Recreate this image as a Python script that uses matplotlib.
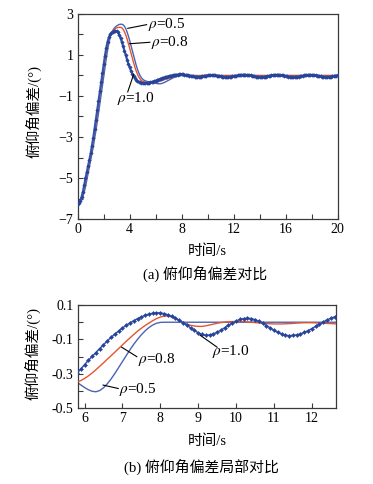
import numpy as np
import matplotlib
matplotlib.use("Agg")
import matplotlib.pyplot as plt
from matplotlib.ticker import MultipleLocator, FormatStrFormatter

plt.rcParams['font.family'] = ['Liberation Serif', 'Noto Sans CJK SC']
plt.rcParams['mathtext.fontset'] = 'stix'
plt.rcParams['axes.unicode_minus'] = True

# time grid, 0.1 s step
time_s = np.round(np.arange(201) * 0.1, 1)

rho_10 = [
    -6.25, -6.21, -6.10, -5.92, -5.67, -5.36, -5.02, -4.72, -4.42, -4.13,
    -3.80, -3.43, -3.03, -2.60, -2.15, -1.70, -1.24, -0.78, -0.32, 0.13,
    0.56, 0.97, 1.35, 1.65, 1.86, 2.00, 2.09, 2.14, 2.17, 2.18,
    2.16, 2.10, 1.98, 1.82, 1.63, 1.42, 1.20, 0.98, 0.77, 0.57,
    0.39, 0.23, 0.09, -0.03, -0.13, -0.21, -0.27, -0.31, -0.34, -0.36,
    -0.370, -0.375, -0.372, -0.365, -0.355, -0.343, -0.329, -0.314, -0.297, -0.272,
    -0.247, -0.222, -0.199, -0.176, -0.153, -0.131, -0.109, -0.088, -0.069, -0.051,
    -0.034, -0.018, -0.004, 0.009, 0.021, 0.031, 0.040, 0.047, 0.052, 0.055,
    0.054, 0.050, 0.043, 0.034, 0.024, 0.012, -0.002, -0.017, -0.033, -0.048,
    -0.061, -0.071, -0.077, -0.074, -0.068, -0.058, -0.046, -0.032, -0.018, -0.005,
    0.007, 0.016, 0.021, 0.023, 0.021, 0.015, 0.006, -0.006, -0.019, -0.033,
    -0.047, -0.059, -0.068, -0.075, -0.078, -0.077, -0.074, -0.068, -0.059, -0.049,
    -0.037, -0.024, -0.011, 0.001, 0.013, 0.023, 0.031, 0.037, 0.040, 0.036,
    0.032, 0.025, 0.015, 0.003, -0.011, -0.026, -0.040, -0.053, -0.064, -0.073,
    -0.078, -0.080, -0.078, -0.073, -0.064, -0.053, -0.040, -0.026, -0.011, 0.003,
    0.015, 0.025, 0.032, 0.035, 0.034, 0.030, 0.023, 0.013, 0.001, -0.012,
    -0.026, -0.040, -0.053, -0.064, -0.072, -0.077, -0.079, -0.077, -0.072, -0.064,
    -0.053, -0.041, -0.027, -0.013, 0.001, 0.013, 0.023, 0.030, 0.034, 0.034,
    0.031, 0.025, 0.016, 0.005, -0.008, -0.022, -0.036, -0.049, -0.060, -0.069,
    -0.075, -0.078, -0.077, -0.073, -0.066, -0.056, -0.044, -0.031, -0.017, -0.004,
    0.008,
]

rho_08 = [
    -6.25, -6.23, -6.15, -6.00, -5.79, -5.52, -5.20, -4.86, -4.54, -4.23,
    -3.92, -3.58, -3.21, -2.80, -2.37, -1.93, -1.49, -1.04, -0.59, -0.14,
    0.31, 0.74, 1.14, 1.49, 1.76, 1.95, 2.08, 2.17, 2.24, 2.29,
    2.32, 2.34, 2.35, 2.35, 2.32, 2.25, 2.13, 1.97, 1.78, 1.56,
    1.33, 1.09, 0.85, 0.62, 0.41, 0.22, 0.06, -0.07, -0.17, -0.24,
    -0.285, -0.315, -0.333, -0.343, -0.348, -0.351, -0.352, -0.351, -0.347, -0.339,
    -0.327, -0.312, -0.295, -0.276, -0.256, -0.236, -0.215, -0.195, -0.174, -0.153,
    -0.132, -0.111, -0.091, -0.071, -0.052, -0.035, -0.019, -0.005, 0.009, 0.021,
    0.030, 0.036, 0.036, 0.031, 0.021, 0.009, -0.002, -0.011, -0.018, -0.022,
    -0.024, -0.024, -0.021, -0.016, -0.011, -0.006, -0.002, 0.001, 0.003, 0.004,
    0.004, 0.004, 0.003, 0.002, 0.000, -0.002, -0.004, -0.006, -0.008, -0.009,
    -0.010, -0.010, -0.010, -0.009, -0.008, -0.007, -0.005, -0.004, -0.003, -0.003,
    -0.003, -0.004, -0.005, -0.006, -0.007, -0.008, -0.009, -0.010, -0.010, -0.009,
    -0.008, -0.007, -0.006, -0.005, -0.004, -0.004, -0.004, -0.005, -0.006, -0.007,
    -0.008, -0.008, -0.008, -0.007, -0.006, -0.005, -0.004, -0.004, -0.004, -0.005,
    -0.006, -0.007, -0.007, -0.007, -0.006, -0.005, -0.005, -0.004, -0.004, -0.005,
    -0.005, -0.006, -0.006, -0.006, -0.006, -0.005, -0.005, -0.004, -0.004, -0.005,
    -0.005, -0.005, -0.006, -0.006, -0.005, -0.005, -0.005, -0.004, -0.004, -0.004,
    -0.005, -0.005, -0.005, -0.005, -0.005, -0.004, -0.004, -0.004, -0.004, -0.005,
    -0.005, -0.005, -0.005, -0.004, -0.004, -0.004, -0.004, -0.004, -0.004, -0.004,
    -0.004,
]

rho_05 = [
    -6.25, -6.24, -6.19, -6.08, -5.92, -5.70, -5.43, -5.11, -4.78, -4.46,
    -4.14, -3.81, -3.47, -3.10, -2.70, -2.28, -1.85, -1.41, -0.96, -0.50,
    -0.05, 0.40, 0.83, 1.23, 1.58, 1.86, 2.06, 2.20, 2.30, 2.37,
    2.42, 2.46, 2.49, 2.50, 2.50, 2.47, 2.40, 2.28, 2.12, 1.92,
    1.70, 1.46, 1.21, 0.96, 0.72, 0.50, 0.30, 0.13, -0.01, -0.11,
    -0.180, -0.230, -0.260, -0.285, -0.300, -0.313, -0.324, -0.336, -0.349, -0.364,
    -0.379, -0.392, -0.401, -0.404, -0.397, -0.381, -0.358, -0.330, -0.298, -0.264,
    -0.229, -0.194, -0.160, -0.128, -0.099, -0.073, -0.050, -0.031, -0.016, -0.006,
    -0.001, 0.000, 0.000, 0.000, 0.000, 0.000, 0.000, 0.000, 0.000, 0.000,
    0.000, 0.000, 0.000, 0.000, 0.000, 0.000, 0.000, 0.000, 0.000, 0.000,
    0.000, 0.000, 0.000, 0.000, 0.000, 0.000, 0.000, 0.000, 0.000, 0.000,
    0.000, 0.000, 0.000, 0.000, 0.000, 0.000, 0.000, 0.000, 0.000, 0.000,
    0.000, 0.000, 0.000, 0.000, 0.000, 0.000, 0.000, 0.000, 0.000, 0.000,
    0.000, 0.000, 0.000, 0.000, 0.000, 0.000, 0.000, 0.000, 0.000, 0.000,
    0.000, 0.000, 0.000, 0.000, 0.000, 0.000, 0.000, 0.000, 0.000, 0.000,
    0.000, 0.000, 0.000, 0.000, 0.000, 0.000, 0.000, 0.000, 0.000, 0.000,
    0.000, 0.000, 0.000, 0.000, 0.000, 0.000, 0.000, 0.000, 0.000, 0.000,
    0.000, 0.000, 0.000, 0.000, 0.000, 0.000, 0.000, 0.000, 0.000, 0.000,
    0.000, 0.000, 0.000, 0.000, 0.000, 0.000, 0.000, 0.000, 0.000, 0.000,
    0.000, 0.000, 0.000, 0.000, 0.000, 0.000, 0.000, 0.000, 0.000, 0.000,
    0.000,
]

series_labels = [r'$\rho$=0.5', r'$\rho$=0.8', r'$\rho$=1.0']
ylabel_text = '俯仰角偏差/(°)'
xlabel_text = '时间/s'
caption_a = '(a) 俯仰角偏差对比'
caption_b = '(b) 俯仰角偏差局部对比'

C05 = '#4b63b4'
C08 = '#e5562e'
C10 = '#3556ad'
CM = '#27449a'
SP = '#3a3a3a'

fig = plt.figure(figsize=(3.73, 4.84), dpi=100)
ax1 = fig.add_axes([0.2083, 0.5475, 0.697, 0.4236])
ax2 = fig.add_axes([0.2083, 0.1564, 0.6917, 0.2134])


def style(ax):
    for s in ax.spines.values():
        s.set_color(SP)
        s.set_linewidth(0.9)
    ax.tick_params(which='both', direction='in', top=False, right=False,
                   colors=SP, labelcolor='black', labelsize=10, width=0.8)
    ax.tick_params(which='major', length=3.5, pad=3)
    ax.tick_params(which='minor', length=3.5)


def draw(ax, ms, mlw):
    ax.plot(time_s, rho_05, color=C05, lw=1.0, zorder=2)
    ax.plot(time_s, rho_08, color=C08, lw=1.0, zorder=3)
    ax.plot(time_s, rho_10, color=C10, lw=mlw, marker='D', ms=ms,
            mfc=CM, mec=CM, mew=0.3, zorder=4)


# top panel
draw(ax1, 1.8, 1.6)
ax1.set_xlim(0, 20)
ax1.set_ylim(-7, 3)
ax1.xaxis.set_major_locator(MultipleLocator(4))
ax1.xaxis.set_minor_locator(MultipleLocator(2))
ax1.yaxis.set_major_locator(MultipleLocator(2, offset=1))
ax1.yaxis.set_minor_locator(MultipleLocator(1))
style(ax1)

lab_kw = dict(fontsize=11, va='center', ha='left')
ln_kw = dict(color='black', lw=0.8, zorder=6)
ax1.plot([3.85, 5.3], [2.3, 2.48], **ln_kw)
ax1.text(5.4, 2.5, series_labels[0], **lab_kw)
ax1.plot([4.0, 5.55], [1.55, 1.62], **ln_kw)
ax1.text(5.65, 1.6, series_labels[1], **lab_kw)
ax1.plot([4.3, 3.85], [0.05, -0.8], **ln_kw)
ax1.text(3.0, -1.12, series_labels[2], **lab_kw)

# bottom panel
draw(ax2, 2.1, 1.1)
ax2.set_xlim(5.82, 12.63)
ax2.set_ylim(-0.5, 0.1)
ax2.xaxis.set_major_locator(MultipleLocator(1))
ax2.yaxis.set_major_locator(MultipleLocator(0.2, offset=0.1))
ax2.yaxis.set_minor_locator(MultipleLocator(0.1))
ax2.yaxis.set_major_formatter(FormatStrFormatter('%.1f'))
style(ax2)

ax2.plot([6.98, 7.38], [-0.145, -0.2], **ln_kw)
ax2.text(7.4, -0.217, series_labels[1], **lab_kw)
ax2.plot([6.49, 6.89], [-0.365, -0.385], **ln_kw)
ax2.text(6.92, -0.39, series_labels[0], **lab_kw)
ax2.plot([9.05, 9.5], [-0.075, -0.145], **ln_kw)
ax2.text(9.36, -0.172, series_labels[2], **lab_kw)

# labels and captions (figure coordinates)
cjk = ['Liberation Serif', 'Noto Sans CJK SC']
fig.text(33 / 373, 1 - 112 / 484, ylabel_text, rotation=90, ha='center', va='center',
         fontsize=10.5, family=cjk)
fig.text(32 / 373, 1 - 354 / 484, ylabel_text, rotation=90, ha='center', va='center',
         fontsize=10.5, family=cjk)
fig.text(207 / 373, 1 - 251 / 484, xlabel_text, ha='center', va='center', fontsize=10.5, family=cjk)
fig.text(205 / 373, 1 - 273.5 / 484, caption_a, ha='center', va='center', fontsize=10.7, family=cjk)
fig.text(207 / 373, 1 - 441.5 / 484, xlabel_text, ha='center', va='center', fontsize=10.5, family=cjk)
fig.text(201 / 373, 1 - 466.5 / 484, caption_b, ha='center', va='center', fontsize=10.7, family=cjk)

fig.savefig('out.png', dpi=100)
